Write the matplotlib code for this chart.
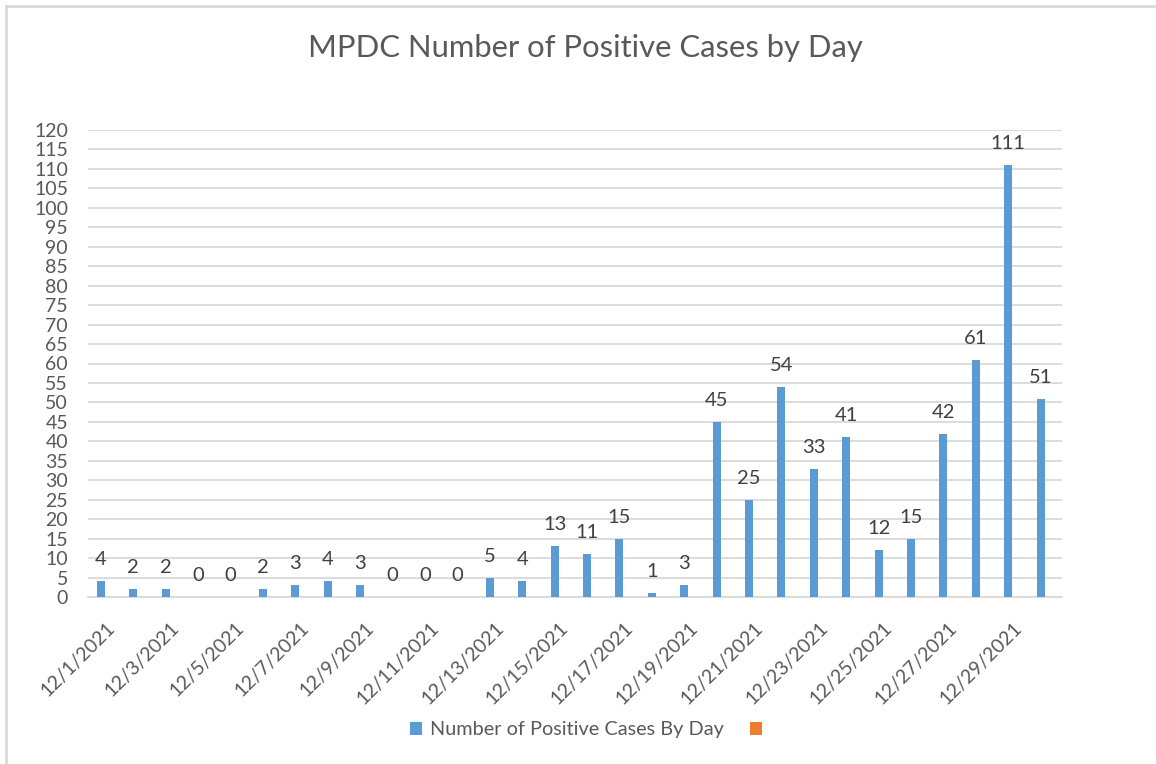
import matplotlib
matplotlib.use("Agg")
import matplotlib.pyplot as plt
import matplotlib.transforms as mtransforms
from matplotlib.patches import Patch
from matplotlib.lines import Line2D

dates = ["12/1/2021", "12/2/2021", "12/3/2021", "12/4/2021", "12/5/2021", "12/6/2021",
         "12/7/2021", "12/8/2021", "12/9/2021", "12/10/2021", "12/11/2021", "12/12/2021",
         "12/13/2021", "12/14/2021", "12/15/2021", "12/16/2021", "12/17/2021", "12/18/2021",
         "12/19/2021", "12/20/2021", "12/21/2021", "12/22/2021", "12/23/2021", "12/24/2021",
         "12/25/2021", "12/26/2021", "12/27/2021", "12/28/2021", "12/29/2021", "12/30/2021"]
cases = [4, 2, 2, 0, 0, 2, 3, 4, 3, 0, 0, 0, 5, 4, 13, 11, 15, 1, 3, 45, 25, 54, 33, 41,
         12, 15, 42, 61, 111, 51]
series_label = "Number of Positive Cases By Day"
title = "MPDC Number of Positive Cases by Day"
yticks = list(range(0, 121, 5))

plt.rcParams['font.family'] = ['Lato', 'DejaVu Sans']

fig = plt.figure(figsize=(11.56, 7.64), dpi=100)
ax = fig.add_axes([88/1156, 1-597/764, (1062-88)/1156, (597-130)/764])

x = list(range(len(cases)))
bars = ax.bar(x, cases, width=0.25, color="#5B9BD5", zorder=3)
for xi, v in zip(x, cases):
    ax.annotate(str(v), (xi, v), xytext=(0, 13), textcoords="offset pixels",
                ha="center", va="bottom", fontsize=14.5, color="#404040")

ax.set_xlim(-0.4, 29.66)
ax.set_ylim(0, 120)
ax.set_yticks(yticks)
ax.set_yticklabels([str(t) for t in yticks], fontsize=14, color="#595959")
ax.yaxis.grid(True, color="#d9d9d9", linewidth=1.3, zorder=0)
ax.tick_params(axis="y", length=0, pad=14.4)
ax.tick_params(axis="x", length=0)
for s in ["left", "right", "top"]:
    ax.spines[s].set_visible(False)
ax.spines["bottom"].set_color("#d9d9d9")
ax.spines["bottom"].set_linewidth(1.3)

ax.set_xticks(x[::2])
labels = ax.set_xticklabels(dates[::2], rotation=45, ha="right", va="center",
                            rotation_mode="anchor", fontsize=14, color="#595959")
offset = mtransforms.ScaledTranslation(11/100, -23/100, fig.dpi_scale_trans)
for lab in labels:
    lab.set_transform(lab.get_transform() + offset)

fig.text(585/1156, 1-48/764, title, ha="center", va="center", fontsize=22.3, color="#595959")

handles = [Patch(facecolor="#5B9BD5", edgecolor="none"), Patch(facecolor="#ED7D31", edgecolor="none")]
fig.legend(handles, [series_label, ""], loc="center", bbox_to_anchor=(590/1156, 1-730/764),
           ncol=2, frameon=False, fontsize=14.3, labelcolor="#595959",
           handlelength=0.6, handleheight=0.6, handletextpad=0.4, columnspacing=1.3)

fig.add_artist(Line2D([6/1156, 6/1156], [0, 1-6/764], color="#d9d9d9", linewidth=2, transform=fig.transFigure))
fig.add_artist(Line2D([6/1156, 1], [1-6/764, 1-6/764], color="#d9d9d9", linewidth=2, transform=fig.transFigure))

fig.savefig("out.png", dpi=100, facecolor="white")
